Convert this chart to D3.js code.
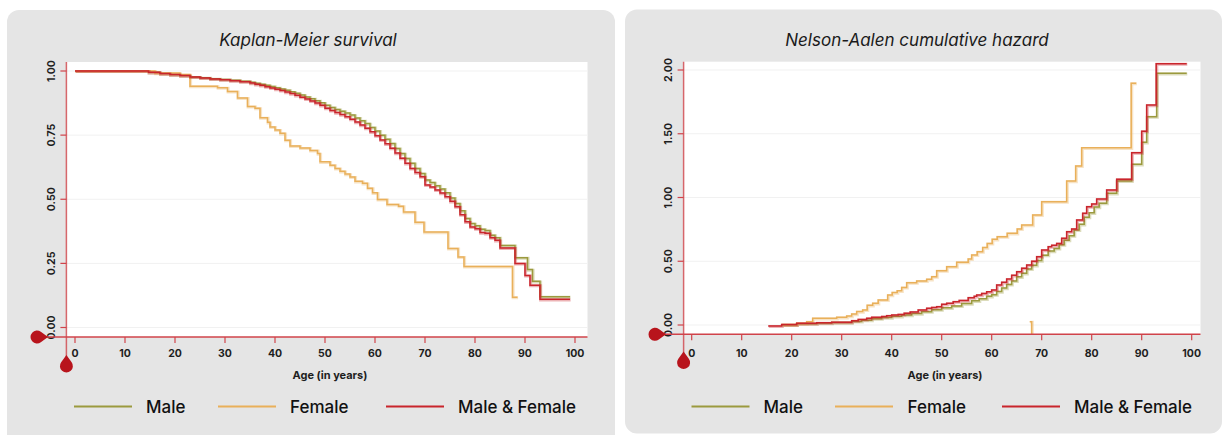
<!DOCTYPE html>
<html>
<head>
<meta charset="utf-8">
<script src="https://cdn.jsdelivr.net/npm/d3@7"></script>
<style>
    body { margin: 0; background: #fff; }
    svg { display: block; font-family: Inter, "Noto Sans", sans-serif; }
    .title { font-style: italic; font-size: 17px; fill: #1a1a1a; }
    .tick-label { font-size: 10.5px; font-weight: 700; fill: #1e1e1e; }
    .axis-title { font-size: 11px; font-weight: 700; fill: #1e1e1e; }
    .legend-label { font-size: 17px; font-weight: 500; fill: #111; }
</style>
</head>
<body>
<div id="chart"></div>
<script>
// data: [age, value] step points
const seriesNames = ["Male", "Female", "Male & Female"];
const seriesColors = ["#9b9a3e", "#e9b05a", "#c9252c"];
const xTicks = [0, 10, 20, 30, 40, 50, 60, 70, 80, 90, 100];
const kmTicks = [0, 0.25, 0.5, 0.75, 1];
const naTicks = [0, 0.5, 1, 1.5, 2];

const kmMale = [[0,1.000],[14.7,0.995],[17,0.990],[19,0.986],[21,0.982],[23,0.977],[25,0.974],[27,0.970],[29,0.967],[31,0.964],[33,0.960],[35,0.956],[36,0.952],[37,0.948],[38,0.944],[39,0.940],[40,0.935],[41,0.930],[42,0.925],[43,0.919],[44,0.913],[45,0.906],[46,0.899],[47,0.892],[48,0.884],[49,0.876],[50,0.866],[51,0.858],[52,0.850],[53,0.843],[54,0.836],[55,0.828],[56,0.817],[57,0.806],[58,0.795],[59,0.780],[60,0.766],[61,0.750],[62,0.734],[63,0.717],[64,0.698],[65,0.678],[66,0.659],[67,0.640],[68,0.620],[69,0.600],[70,0.575],[71,0.565],[72,0.553],[73,0.540],[74,0.525],[75,0.505],[76,0.483],[77,0.455],[78,0.425],[79,0.405],[80,0.397],[81,0.383],[82,0.378],[83,0.360],[84,0.350],[85,0.320],[88,0.272],[90.5,0.226],[91.5,0.180],[93,0.120],[99,0.120]];
const kmFemale = [[0,1.000],[16,0.992],[21,0.986],[23,0.941],[28.5,0.935],[30.5,0.920],[32.5,0.895],[34.5,0.862],[36,0.855],[37,0.818],[38.5,0.800],[39,0.782],[40,0.770],[41,0.757],[42,0.730],[43,0.708],[45,0.700],[47,0.690],[48.5,0.678],[49,0.646],[51,0.633],[52,0.620],[53,0.609],[54,0.598],[55,0.587],[56,0.570],[57.5,0.562],[58.5,0.543],[59.5,0.525],[60.5,0.499],[62.4,0.480],[64.7,0.473],[65.7,0.450],[68,0.410],[69.8,0.372],[74.6,0.308],[76.6,0.275],[77.8,0.238],[87.5,0.118],[88.5,0.118]];
const kmAll = [[0,1.000],[14.7,0.995],[17,0.990],[19,0.986],[21,0.982],[23,0.977],[25,0.973],[27,0.969],[29,0.966],[31,0.962],[33,0.958],[35,0.953],[36,0.948],[37,0.944],[38,0.939],[39,0.934],[40,0.929],[41,0.924],[42,0.918],[43,0.912],[44,0.905],[45,0.898],[46,0.891],[47,0.883],[48,0.875],[49,0.866],[50,0.855],[51,0.846],[52,0.838],[53,0.830],[54,0.822],[55,0.812],[56,0.801],[57,0.789],[58,0.777],[59,0.763],[60,0.748],[61,0.731],[62,0.716],[63,0.699],[64,0.680],[65,0.660],[66,0.640],[67,0.620],[68,0.604],[69,0.588],[70,0.556],[71,0.548],[72,0.536],[73,0.524],[74,0.510],[75,0.492],[76,0.471],[77,0.440],[78,0.412],[79,0.392],[80,0.385],[81,0.370],[82,0.367],[83,0.350],[84,0.340],[85,0.310],[88,0.250],[90,0.203],[91,0.165],[93,0.110],[99,0.110]];

const naMale = [[18,0.000],[21,0.010],[25,0.015],[28,0.019],[32,0.028],[34,0.038],[36,0.050],[38,0.058],[40,0.068],[42,0.078],[44,0.090],[46,0.104],[48,0.120],[50,0.135],[52,0.150],[54,0.168],[56,0.190],[57.5,0.205],[59,0.225],[60,0.238],[61,0.262],[62,0.290],[63,0.318],[64,0.345],[65,0.378],[66,0.405],[67,0.440],[68,0.468],[69,0.505],[70,0.548],[71.3,0.580],[72.5,0.600],[73.5,0.630],[74.5,0.665],[75.5,0.700],[76.5,0.745],[77.5,0.790],[78.5,0.845],[79.5,0.880],[80.5,0.925],[81.5,0.955],[83,1.033],[85,1.130],[88,1.260],[90,1.433],[91,1.634],[93,1.974],[99,1.974]];
const naFemale = [[18,0.003],[21,0.013],[23,0.026],[24.2,0.052],[29,0.060],[31,0.070],[32,0.086],[33,0.105],[34.2,0.118],[35.1,0.154],[36.2,0.170],[37.3,0.196],[39.2,0.235],[40.1,0.254],[41.1,0.268],[42,0.295],[43,0.332],[45,0.345],[47,0.358],[48,0.379],[49,0.426],[51,0.457],[53,0.492],[55.3,0.518],[56,0.549],[57.1,0.575],[58.2,0.607],[59.1,0.640],[60.1,0.672],[61.1,0.693],[63.1,0.719],[65.1,0.753],[66,0.784],[68.2,0.863],[70,0.967],[75,1.129],[76.8,1.247],[78,1.390],[87.9,1.896],[88.9,1.896]];
const naFemaleStray = [[67.6,0.026],[68,0.026],[68,-0.07]];
const naAll = [[15.3,-0.008],[18,0.003],[21,0.013],[25,0.018],[28,0.022],[32,0.034],[33.3,0.044],[35,0.052],[36,0.060],[38,0.066],[39,0.073],[40,0.078],[41.3,0.083],[42.5,0.092],[43.7,0.102],[45.3,0.118],[47,0.131],[48,0.138],[49,0.144],[50,0.162],[51,0.170],[52.3,0.183],[53.5,0.192],[55.3,0.214],[56.5,0.225],[57,0.235],[58,0.248],[59,0.260],[60,0.275],[61,0.314],[62,0.335],[63,0.360],[64,0.390],[65,0.418],[66,0.445],[67,0.470],[68,0.500],[69,0.536],[70,0.588],[71.3,0.614],[72,0.625],[73,0.640],[74,0.680],[75,0.732],[76,0.753],[77,0.824],[78.2,0.876],[79,0.928],[80,0.949],[81,0.988],[83,1.059],[85,1.143],[88,1.351],[90,1.520],[91,1.725],[92.9,2.050],[99,2.050]];

const axisRed = "#d0434a";
const markRed = "#b8141c";

const svg = d3.select("#chart").append("svg")
    .attr("width", 1224)
    .attr("height", 435);

// teardrop marker, tip pointing along +x before rotation
function drop(r, d) {
    const a = r * r / d, b = r * Math.sqrt(d * d - r * r) / d;
    return `M${d},0L${a},${-b}A${r},${r} 0 1 0 ${a},${b}Z`;
}

function panel(opt) {
    const g = svg.append("g");

    g.append("rect")
        .attr("x", opt.box[0]).attr("y", opt.box[1])
        .attr("width", opt.box[2]).attr("height", opt.box[3])
        .attr("rx", 12)
        .attr("fill", "#e5e5e5");

    const xScale = d3.scaleLinear().domain([0, 100]).range(opt.xRange);
    const yScale = d3.scaleLinear().domain(opt.yDomain).range(opt.yRange);

    // white plot area
    g.append("rect")
        .attr("x", opt.axisX).attr("y", opt.top)
        .attr("width", opt.right - opt.axisX)
        .attr("height", opt.axisY - opt.top)
        .attr("fill", "#fff");

    g.append("text")
        .attr("class", "title")
        .attr("x", opt.titleX).attr("y", 45.5)
        .attr("text-anchor", "middle")
        .text(opt.title);

    // grid
    g.selectAll(".grid").data(opt.yTicks).join("line")
        .attr("x1", opt.axisX).attr("x2", opt.right)
        .attr("y1", (d) => yScale(d)).attr("y2", (d) => yScale(d))
        .attr("stroke", "#f1f1f1");

    // series
    const line = d3.line()
        .x((d) => xScale(d[0]))
        .y((d) => yScale(d[1]))
        .curve(d3.curveStepAfter);

    opt.series.forEach((s) => {
        g.append("path").datum(s.data)
            .attr("d", line)
            .attr("fill", "none")
            .attr("stroke", seriesColors[s.idx])
            .attr("stroke-opacity", 0.35)
            .attr("stroke-width", 3)
            .attr("transform", "translate(0.6,0.6)");
        g.append("path").datum(s.data)
            .attr("d", line)
            .attr("fill", "none")
            .attr("stroke", seriesColors[s.idx])
            .attr("stroke-width", 1.5);
    });

    // y axis
    g.append("line")
        .attr("x1", opt.axisX).attr("x2", opt.axisX)
        .attr("y1", opt.top).attr("y2", opt.dropY)
        .attr("stroke", axisRed).attr("stroke-opacity", 0.8).attr("stroke-width", 1.5);
    g.selectAll(".ytick").data(opt.yTicks).join("line")
        .attr("x1", opt.axisX - 6).attr("x2", opt.axisX)
        .attr("y1", (d) => yScale(d)).attr("y2", (d) => yScale(d))
        .attr("stroke", axisRed).attr("stroke-width", 1.2);
    g.selectAll(".ylab").data(opt.yTicks).join("text")
        .attr("class", "tick-label")
        .attr("transform", (d) => `translate(${opt.axisX - 15},${yScale(d)}) rotate(-90)`)
        .attr("text-anchor", "middle")
        .attr("dominant-baseline", "central")
        .text(d3.format(".2f"));

    // x axis
    g.append("line")
        .attr("x1", opt.dropX).attr("x2", opt.right)
        .attr("y1", opt.axisY).attr("y2", opt.axisY)
        .attr("stroke", axisRed).attr("stroke-width", 1.5);
    g.selectAll(".xtick").data(xTicks).join("line")
        .attr("x1", (d) => xScale(d)).attr("x2", (d) => xScale(d))
        .attr("y1", opt.axisY).attr("y2", opt.axisY + 6)
        .attr("stroke", axisRed).attr("stroke-width", 1.2);
    g.selectAll(".xlab").data(xTicks).join("text")
        .attr("class", "tick-label")
        .attr("x", (d) => xScale(d)).attr("y", 353)
        .attr("text-anchor", "middle")
        .attr("dominant-baseline", "central")
        .text((d) => d);

    g.append("text")
        .attr("class", "axis-title")
        .attr("x", (opt.axisX + opt.right) / 2 + 3).attr("y", 375)
        .attr("text-anchor", "middle")
        .attr("dominant-baseline", "central")
        .text("Age (in years)");

    // axis end markers
    g.append("path").attr("d", drop(6.5, 11))
        .attr("transform", `translate(${opt.dropX},${opt.axisY})`)
        .attr("fill", markRed);
    g.append("path").attr("d", drop(6.5, 11))
        .attr("transform", `translate(${opt.axisX},${opt.dropY}) rotate(-90)`)
        .attr("fill", markRed);

    // legend
    const leg = g.selectAll(".legend").data(seriesNames).join("g");
    leg.append("line")
        .attr("x1", (d, i) => opt.legend[i][0]).attr("x2", (d, i) => opt.legend[i][0] + 58)
        .attr("y1", 406.5).attr("y2", 406.5)
        .attr("stroke", (d, i) => seriesColors[i])
        .attr("stroke-width", 2.2);
    leg.append("text")
        .attr("class", "legend-label")
        .attr("x", (d, i) => opt.legend[i][1]).attr("y", 407)
        .attr("dominant-baseline", "central")
        .text((d) => d);
}

panel({
    box: [7, 10, 608, 440],
    title: "Kaplan-Meier survival",
    titleX: 308,
    xRange: [75, 575],
    yDomain: [0, 1],
    yRange: [327.5, 71],
    yTicks: kmTicks,
    axisX: 66.4,
    axisY: 337,
    top: 62,
    right: 587.5,
    dropX: 37,
    dropY: 366,
    legend: [[74, 146], [218, 290], [386, 458]],
    series: [
        {idx: 0, data: kmMale},
        {idx: 1, data: kmFemale},
        {idx: 2, data: kmAll}
    ]
});

panel({
    box: [625, 9.5, 597, 424],
    title: "Nelson-Aalen cumulative hazard",
    titleX: 917,
    xRange: [691.7, 1191.7],
    yDomain: [0, 2],
    yRange: [325, 70],
    yTicks: naTicks,
    axisX: 683.6,
    axisY: 334.3,
    top: 61.7,
    right: 1200.5,
    dropX: 655,
    dropY: 362.5,
    legend: [[691.5, 763.5], [835, 907.5], [1002, 1074]],
    series: [
        {idx: 0, data: naMale},
        {idx: 1, data: naFemale},
        {idx: 1, data: naFemaleStray},
        {idx: 2, data: naAll}
    ]
});
</script>
</body>
</html>
